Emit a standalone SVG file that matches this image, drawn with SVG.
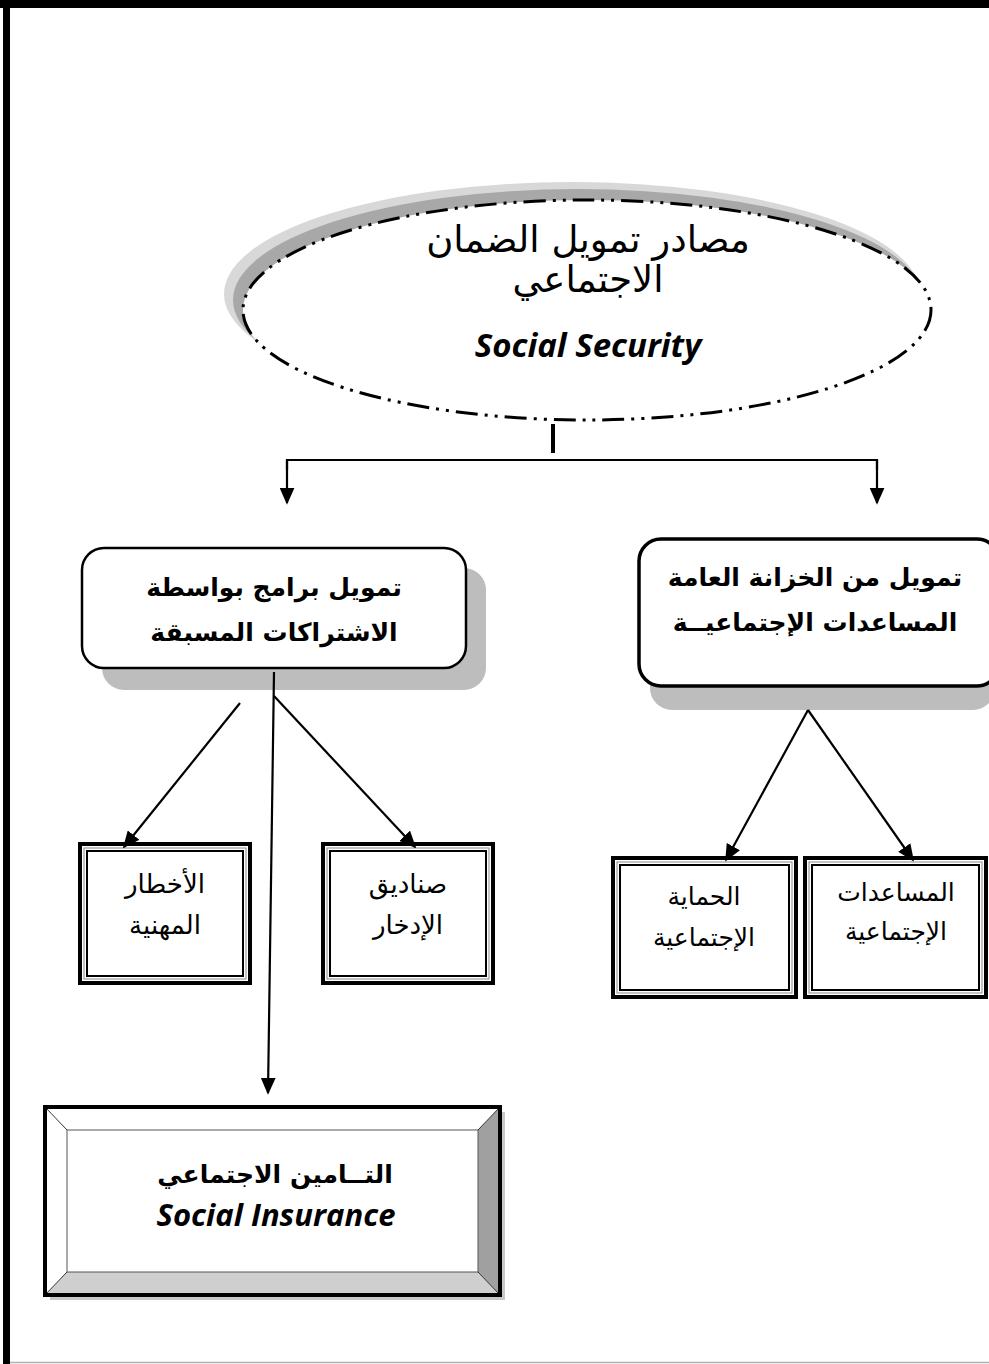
<svg xmlns="http://www.w3.org/2000/svg" width="989" height="1364" viewBox="0 0 989 1364">
<defs>
<style>
.ar{font-family:"DejaVu Sans","Noto Sans",sans-serif;fill:#000;text-anchor:middle}
.arb{font-family:"DejaVu Sans","Noto Sans",sans-serif;font-weight:bold;fill:#000;text-anchor:middle}
.en{font-family:"Open Sans","Liberation Sans",sans-serif;font-style:italic;font-weight:700;fill:#000;text-anchor:middle}
.conn{stroke:#000;stroke-width:2.2;fill:none}
.tb-out{fill:#fff;stroke:#000;stroke-width:4}
.tb-in{fill:none;stroke:#000;stroke-width:2}
.tb-mid{fill:none;stroke:#888;stroke-width:1}
</style>
<marker id="arrL" viewBox="0 0 10 10" refX="9" refY="5" markerWidth="17" markerHeight="15" markerUnits="userSpaceOnUse" orient="auto" preserveAspectRatio="none">
<path d="M0,0 L10,5 L0,10 z" fill="#000"/>
</marker>
</defs>
<rect x="0" y="0" width="989" height="1364" fill="#fff"/>
<g id="frame">
<rect x="0" y="0" width="989" height="8" fill="#000"/>
<rect x="3" y="0" width="7" height="1364" fill="#000"/>
<line x1="10" y1="1362.5" x2="989" y2="1362.5" stroke="#b0b0b0" stroke-width="1.5"/>
</g>
<g id="root">
<ellipse cx="572" cy="294" rx="348" ry="112" fill="#d8d8d8"/>
<ellipse cx="578" cy="300" rx="345" ry="111" fill="#a8a8a8"/>
<ellipse cx="587" cy="310" rx="344" ry="110" fill="#fff" stroke="#000" stroke-width="3" stroke-dasharray="22,7,3,7,3,7"/>
<text class="ar" x="588" y="252" font-size="37">مصادر تمويل الضمان</text>
<text class="ar" x="588" y="292" font-size="37">الاجتماعي</text>
<text class="en" x="588" y="357" font-size="33">Social Security</text>
</g>
<g id="contrib">
<rect x="102" y="568" width="384" height="122" rx="22" fill="#bdbdbd"/>
<rect x="82" y="548" width="384" height="120" rx="22" fill="#fff" stroke="#000" stroke-width="2.5"/>
<text class="arb" x="274" y="596" font-size="25">تمويل برامج بواسطة</text>
<text class="arb" x="274" y="641" font-size="25">الاشتراكات المسبقة</text>
</g>
<g id="treasury">
<rect x="650" y="560" width="345" height="150" rx="22" fill="#bdbdbd"/>
<rect x="639" y="539" width="360" height="147" rx="22" fill="#fff" stroke="#000" stroke-width="3.5"/>
<text class="arb" x="815" y="586" font-size="25">تمويل من الخزانة العامة</text>
<text class="arb" x="815" y="631" font-size="25">المساعدات الإجتماعيــة</text>
</g>
<g id="occ">
<rect class="tb-out" x="80" y="844" width="170" height="139"/>
<rect class="tb-mid" x="84" y="848" width="162" height="131"/>
<rect class="tb-in" x="87" y="851" width="156" height="125"/>
<text class="ar" x="165" y="893" font-size="26">الأخطار</text>
<text class="ar" x="165" y="934" font-size="26">المهنية</text>
</g>
<g id="savings">
<rect class="tb-out" x="323" y="844" width="170" height="139"/>
<rect class="tb-mid" x="327" y="848" width="162" height="131"/>
<rect class="tb-in" x="330" y="851" width="156" height="125"/>
<text class="ar" x="408" y="893" font-size="26">صناديق</text>
<text class="ar" x="408" y="934" font-size="26">الإدخار</text>
</g>
<g id="protection">
<rect class="tb-out" x="613" y="858" width="183" height="139"/>
<rect class="tb-mid" x="617" y="862" width="175" height="131"/>
<rect class="tb-in" x="620" y="865" width="169" height="125"/>
<text class="ar" x="704" y="905" font-size="25">الحماية</text>
<text class="ar" x="704" y="946" font-size="25">الإجتماعية</text>
</g>
<g id="assist">
<rect class="tb-out" x="805" y="858" width="181" height="139"/>
<rect class="tb-mid" x="809" y="862" width="173" height="131"/>
<rect class="tb-in" x="812" y="865" width="167" height="125"/>
<text class="ar" x="896" y="901" font-size="25">المساعدات</text>
<text class="ar" x="896" y="940" font-size="25">الإجتماعية</text>
</g>
<g id="insurance">
<rect x="50" y="1112" width="455" height="188" fill="#c8c8c8"/>
<rect x="45" y="1107" width="455" height="188" fill="#fff"/>
<polygon points="500,1107 500,1295 478,1272 478,1130" fill="#a0a0a0"/>
<polygon points="45,1295 500,1295 478,1272 67,1272" fill="#cfcfcf"/>
<rect x="67" y="1130" width="411" height="142" fill="#fff" stroke="#555" stroke-width="1"/>
<line x1="45" y1="1107" x2="67" y2="1130" stroke="#333" stroke-width="1"/>
<line x1="500" y1="1107" x2="478" y2="1130" stroke="#333" stroke-width="1"/>
<line x1="45" y1="1295" x2="67" y2="1272" stroke="#333" stroke-width="1"/>
<line x1="500" y1="1295" x2="478" y2="1272" stroke="#333" stroke-width="1"/>
<rect x="45" y="1107" width="455" height="188" fill="none" stroke="#000" stroke-width="4"/>
<text class="arb" x="275" y="1183" font-size="25">التــامين الاجتماعي</text>
<text class="en" x="276" y="1226" font-size="31">Social Insurance</text>
</g>
<g id="connectors">
<line x1="553" y1="424" x2="553" y2="453" stroke="#000" stroke-width="4"/>
<polyline class="conn" points="287,470 287,460 877,460 877,470"/>
<path class="conn" d="M287,460 L287,503" marker-end="url(#arrL)"/>
<path class="conn" d="M877,460 L877,503" marker-end="url(#arrL)"/>
<path class="conn" d="M274,672 L268,1093" marker-end="url(#arrL)"/>
<path class="conn" d="M274,696 L415,847" marker-end="url(#arrL)"/>
<path class="conn" d="M240,703 L124,847" marker-end="url(#arrL)"/>
<path class="conn" d="M808,710 L726,860" marker-end="url(#arrL)"/>
<path class="conn" d="M808,710 L913,860" marker-end="url(#arrL)"/>
</g>
</svg>
